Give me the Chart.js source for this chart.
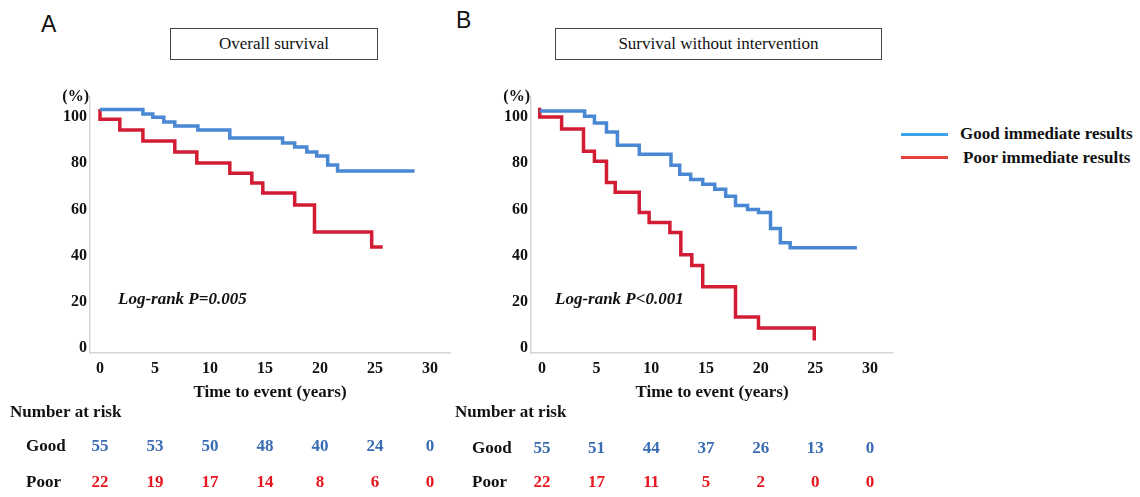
<!DOCTYPE html>
<html>
<head>
<meta charset="utf-8">
<title>Kaplan-Meier survival</title>
<script src="https://cdn.jsdelivr.net/npm/chart.js@4.4.1/dist/chart.umd.min.js"></script>
<style>
body{margin:0;background:#fff;width:1140px;height:497px;position:relative;overflow:hidden;font-family:"Liberation Serif","Times New Roman",serif;}
.abs{position:absolute;}
.letter{font-family:"Liberation Sans",Arial,sans-serif;font-size:23px;line-height:1;color:#111;}
.tbox{border:1px solid #444;text-align:center;font-size:17px;color:#111;box-sizing:border-box;}
.leg{font-weight:bold;font-size:17px;line-height:20px;color:#111;white-space:nowrap;}
canvas{position:absolute;top:0;}
</style>
</head>
<body>
<div class="abs letter" style="left:41px;top:13px;">A</div>
<div class="abs letter" style="left:456px;top:9px;">B</div>
<div class="abs tbox" style="left:170px;top:28px;width:208px;height:32px;line-height:30px;">Overall survival</div>
<div class="abs tbox" style="left:555px;top:28px;width:327px;height:32px;line-height:30px;">Survival without intervention</div>

<canvas id="chartA" width="455" height="497" style="left:0;"></canvas>
<canvas id="chartB" width="460" height="497" style="left:440px;"></canvas>

<div class="abs" style="left:901px;top:133px;width:47px;height:3px;background:#3ea4e8;"></div>
<div class="abs leg" style="left:960px;top:124px;">Good immediate results</div>
<div class="abs" style="left:901px;top:156px;width:47px;height:3px;background:#e8403c;"></div>
<div class="abs leg" style="left:963px;top:148px;">Poor immediate results</div>

<script>
// A: overall survival
const timeGoodA = [0, 3.9, 4.8, 5.8, 6.8, 8.9, 11.8, 16.6, 17.7, 18.8, 19.7, 20.7, 21.6, 28.6];
const survGoodA = [103.3, 101.3, 99.9, 97.8, 96.1, 94.4, 90.9, 88.7, 87, 84.8, 83.1, 79.2, 76.6, 76.6];
const timePoorA = [0, 0, 1.8, 3.9, 6.8, 8.8, 11.8, 13.8, 14.8, 17.7, 19.5, 24.7, 25.7];
const survPoorA = [103.5, 99, 94.4, 89.6, 84.8, 80.1, 75.7, 71.4, 67.1, 61.9, 50.2, 43.7, 43.7];

// B: survival without intervention
const timeGoodB = [-0.2, 3.9, 4.8, 5.9, 6.9, 8.9, 11.8, 12.6, 13.6, 14.7, 15.8, 16.8, 17.7, 18.8, 19.8, 20.9, 21.8, 22.7, 28.8];
const survGoodB = [102.6, 100.4, 97.4, 93.5, 87.8, 83.9, 79.1, 75.2, 73, 70.9, 68.7, 65.7, 61.7, 60, 58.7, 51.7, 45.6, 43.4, 43.4];
const timePoorB = [-0.2, -0.2, 1.8, 3.8, 4.8, 5.9, 6.7, 8.9, 9.8, 11.7, 12.7, 13.7, 14.7, 17.7, 19.8, 24.9];
const survPoorB = [104, 100, 94.8, 85.2, 80.9, 71.7, 67.4, 58.7, 54.3, 50, 40.4, 35.7, 26.5, 13.4, 8.7, 3.2];

// number at risk
const riskTimes = [0, 5, 10, 15, 20, 25, 30];
const riskGoodA = [55, 53, 50, 48, 40, 24, 0];
const riskPoorA = [22, 19, 17, 14, 8, 6, 0];
const riskGoodB = [55, 51, 44, 37, 26, 13, 0];
const riskPoorB = [22, 17, 11, 5, 2, 0, 0];

const xTicks = [0, 5, 10, 15, 20, 25, 30];
const yTicks = [0, 20, 40, 60, 80, 100];

const blue = '#4a88d4', red = '#d21c34';
const numBlue = '#3a6cb4', numRed = '#e8161e';
const serif = '"Liberation Serif","Times New Roman",serif';

function pts(t, s){ return t.map((v, i) => ({x: v, y: s[i]})); }

const riskPlugin = {
  id: 'riskTable',
  afterDraw(chart, args, o){
    const ctx = chart.ctx, x = chart.scales.x;
    ctx.save();
    ctx.font = 'bold 17px ' + serif;
    ctx.textBaseline = 'middle';
    ctx.fillStyle = '#111';
    ctx.textAlign = 'left';
    ctx.fillText('Number at risk', o.headX, o.headY);
    ctx.fillText('Good', o.rowX, o.goodY);
    ctx.fillText('Poor', o.rowX, o.poorY);
    ctx.textAlign = 'center';
    riskTimes.forEach((t, i) => {
      const px = x.getPixelForValue(t);
      ctx.fillStyle = numBlue; ctx.fillText(String(o.good[i]), px, o.goodY);
      ctx.fillStyle = numRed; ctx.fillText(String(o.poor[i]), px, o.poorY);
    });
    ctx.fillStyle = '#111';
    ctx.font = 'bold 16px ' + serif;
    ctx.textAlign = 'right';
    ctx.fillText('(%)', chart.chartArea.left - 1, chart.chartArea.top);
    ctx.font = 'italic bold 17px ' + serif;
    ctx.textAlign = 'left';
    ctx.fillText(o.logrank, o.lrX, o.lrY);
    ctx.restore();
  }
};

function panel(id, c){
  const tickFont = {family: serif, size: 16, weight: 'bold'};
  const titleFont = {family: serif, size: 17, weight: 'bold'};
  new Chart(document.getElementById(id), {
    type: 'line',
    data: {datasets: [
      {data: pts(c.tGood, c.sGood), borderColor: blue, borderWidth: 3.5, stepped: true, pointRadius: 0, fill: false},
      {data: pts(c.tPoor, c.sPoor), borderColor: red, borderWidth: 3.5, stepped: true, pointRadius: 0, fill: false}
    ]},
    options: {
      responsive: false, animation: false, devicePixelRatio: 1,
      layout: {padding: {left: c.padL, top: 97, right: c.padR, bottom: 94}},
      plugins: {
        legend: {display: false}, tooltip: {enabled: false},
        riskTable: {good: c.good, poor: c.poor, headX: c.headX, headY: 413, rowX: c.rowX,
                    goodY: c.goodY, poorY: 483, logrank: c.logrank, lrX: c.lrX, lrY: 300}
      },
      scales: {
        x: {
          type: 'linear', min: c.xMin, max: c.xMax,
          grid: {drawOnChartArea: false, drawTicks: false},
          border: {display: true, color: '#d6d6d6', width: 1.5},
          afterBuildTicks: s => { s.ticks = xTicks.map(v => ({value: v})); },
          ticks: {font: tickFont, color: '#111', padding: 6, maxRotation: 0, autoSkip: false},
          title: {display: true, text: 'Time to event (years)', font: titleFont, color: '#111', padding: {top: 4, bottom: 0}},
          afterFit: s => { s.height = 50; }
        },
        y: {
          type: 'linear', min: c.yMin, max: c.yMax,
          grid: {drawOnChartArea: false, drawTicks: false},
          border: {display: true, color: '#d6d6d6', width: 1.5},
          afterBuildTicks: s => { s.ticks = yTicks.map(v => ({value: v})); },
          ticks: {font: tickFont, color: '#111', padding: 3},
          afterFit: s => { s.width = 40; }
        }
      }
    },
    plugins: [riskPlugin]
  });
}

panel('chartA', {
  tGood: timeGoodA, sGood: survGoodA, tPoor: timePoorA, sPoor: survPoorA,
  good: riskGoodA, poor: riskPoorA,
  padL: 50, padR: 5, xMin: -0.91, xMax: 31.82, yMin: -2.16, yMax: 108.66,
  headX: 10, rowX: 26, goodY: 447, logrank: 'Log-rank P=0.005', lrX: 118
});
panel('chartB', {
  tGood: timeGoodB, sGood: survGoodB, tPoor: timePoorB, sPoor: survPoorB,
  good: riskGoodB, poor: riskPoorB,
  padL: 51, padR: 7, xMin: -1.0, xMax: 32.1, yMin: -2.17, yMax: 108.7,
  headX: 15, rowX: 32, goodY: 449, logrank: 'Log-rank P<0.001', lrX: 115
});
</script>
</body>
</html>
